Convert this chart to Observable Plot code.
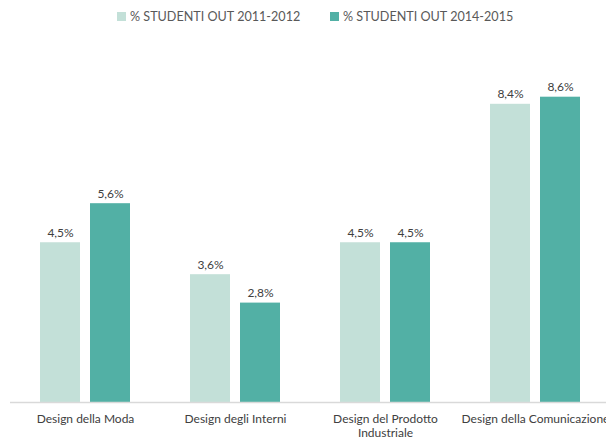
<!DOCTYPE html>
<html>
<head>
<meta charset="utf-8">
<script src="https://cdn.jsdelivr.net/npm/d3@7"></script>
<script src="https://cdn.jsdelivr.net/npm/@observablehq/plot@0.6"></script>
<style>
  html, body { margin: 0; padding: 0; background: #fff; }
  body { width: 606px; height: 439px; overflow: hidden; font-family: Lato, "Open Sans", sans-serif; }
  #legend { position: relative; height: 36px; }
  .item { position: absolute; top: 9px; display: flex; align-items: center; font-size: 12.6px; color: #595959; white-space: nowrap; }
  .sw { width: 9px; height: 9px; margin-right: 4px; }
  #chart svg { display: block; }
</style>
</head>
<body>
<div id="legend"></div>
<div id="chart"></div>
<script>
const categories = ["Design della Moda", "Design degli Interni", "Design del Prodotto Industriale", "Design della Comunicazione"];
const tickLabels = ["Design della Moda", "Design degli Interni", "Design del Prodotto\nIndustriale", "Design della Comunicazione"];
const seriesNames = ["% STUDENTI OUT 2011-2012", "% STUDENTI OUT 2014-2015"];
const values2011 = [4.5, 3.6, 4.5, 8.4];
const values2014 = [5.6, 2.8, 4.5, 8.6];
const colors = ["#c3e0d8", "#52b0a5"];

const fmt = v => v.toFixed(1).replace(".", ",") + "%";
const d1 = categories.map((c, i) => ({cat: c, v: values2011[i]}));
const d2 = categories.map((c, i) => ({cat: c, v: values2014[i]}));

// legend
const legend = document.getElementById("legend");
const lefts = [117, 330];
seriesNames.forEach((s, i) => {
  const it = document.createElement("div");
  it.className = "item";
  it.style.left = lefts[i] + "px";
  it.innerHTML = `<span class="sw" style="background:${colors[i]}"></span><span>${s}</span>`;
  legend.appendChild(it);
});

const chart = Plot.plot({
  width: 606,
  height: 403,
  marginLeft: 10,
  marginRight: 0,
  marginTop: 0,
  marginBottom: 37,
  style: {fontFamily: "Lato, 'Open Sans', sans-serif", background: "#fff"},
  x: {domain: categories, range: [10, 610], padding: 0, label: null},
  y: {domain: [0, 10], range: [366, 11], axis: null},
  marks: [
    Plot.barY(d1, {x: "cat", y: "v", fill: colors[0], insetLeft: 30, insetRight: 80}),
    Plot.barY(d2, {x: "cat", y: "v", fill: colors[1], insetLeft: 80, insetRight: 30}),
    Plot.text(d1, {x: "cat", y: "v", text: d => fmt(d.v), dx: -25, dy: -6, lineAnchor: "bottom", fontSize: 12, fill: "#404040"}),
    Plot.text(d2, {x: "cat", y: "v", text: d => fmt(d.v), dx: 25, dy: -6, lineAnchor: "bottom", fontSize: 12, fill: "#404040"}),
    Plot.ruleY([0], {stroke: "#d9d9d9", strokeWidth: 1.5}),
    Plot.axisX({tickSize: 0, tickPadding: 10, fontSize: 12, color: "#404040", lineHeight: 1.2, label: null,
      tickFormat: d => tickLabels[categories.indexOf(d)], textOverflow: null, lineWidth: Infinity})
  ]
});
document.getElementById("chart").appendChild(chart);
</script>
</body>
</html>
